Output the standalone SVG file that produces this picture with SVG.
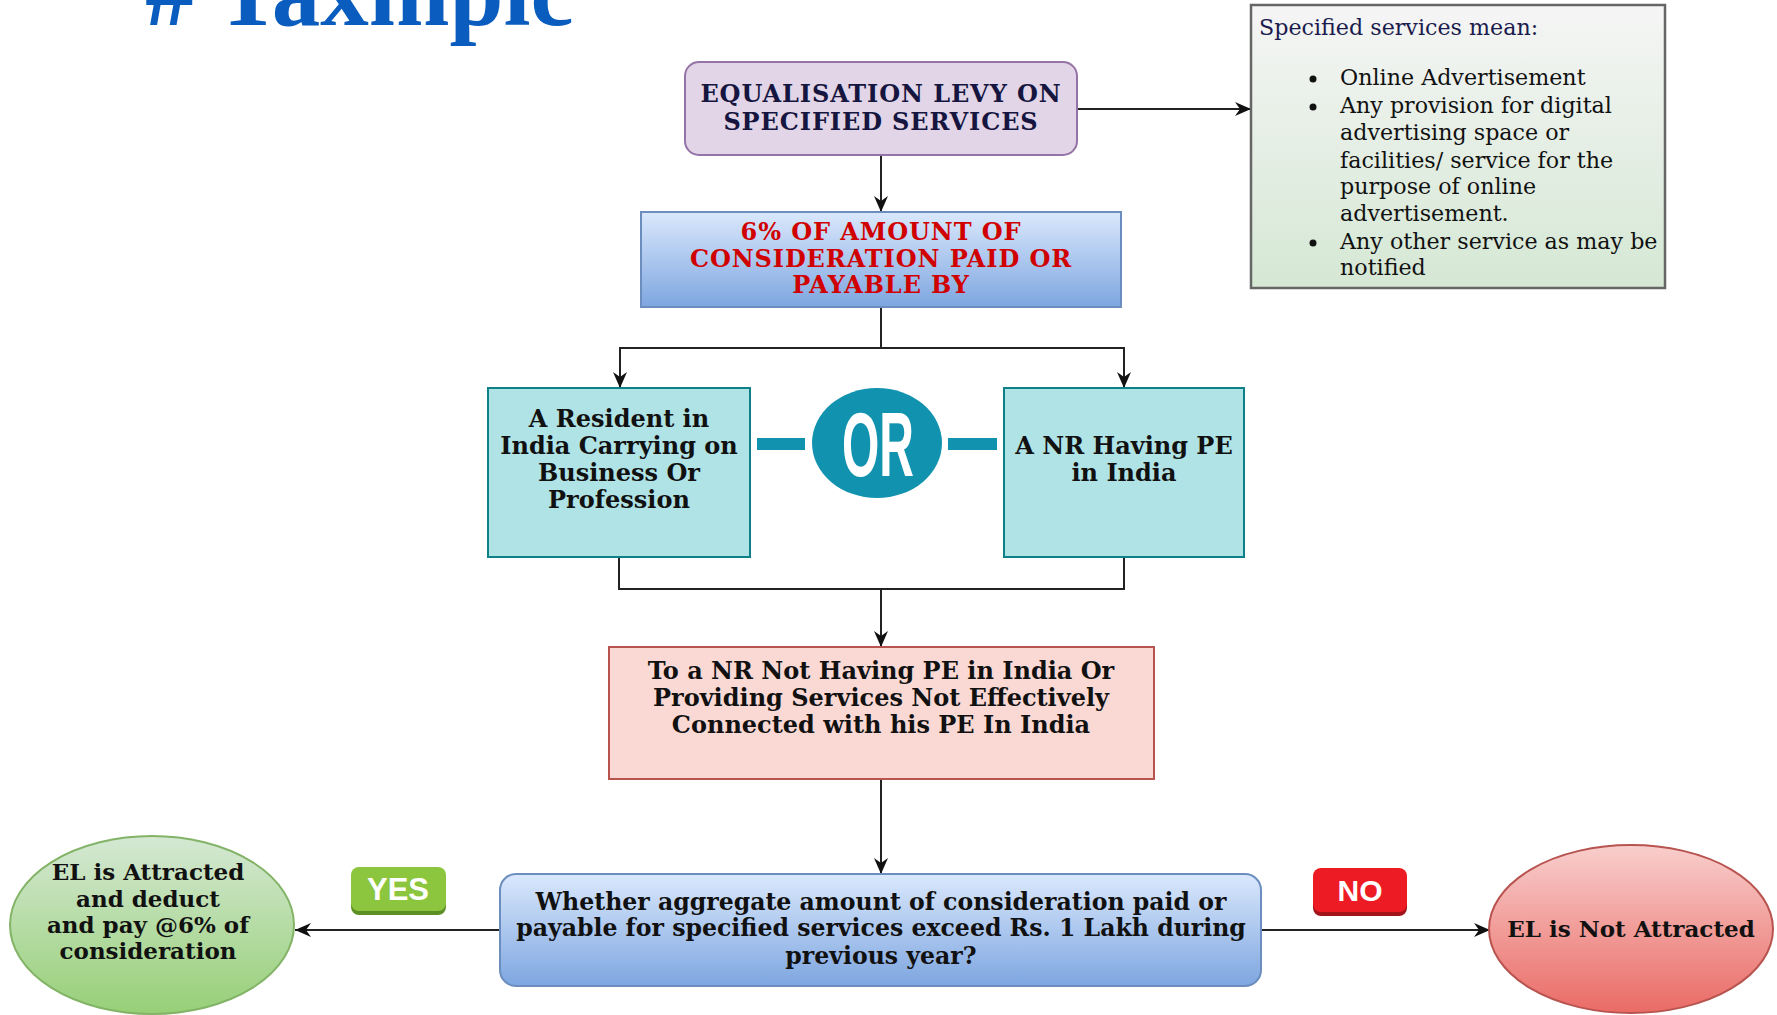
<svg xmlns="http://www.w3.org/2000/svg" width="1777" height="1015" viewBox="0 0 1777 1015">
<defs>
<linearGradient id="gBlue" x1="0" y1="0" x2="0" y2="1"><stop offset="0" stop-color="#dae8fc"/><stop offset="1" stop-color="#7ea6e0"/></linearGradient>
<linearGradient id="gSpec" x1="0" y1="0" x2="0" y2="1"><stop offset="0" stop-color="#f5f5f5"/><stop offset="1" stop-color="#d5e8d4"/></linearGradient>
<linearGradient id="gGreen" x1="0" y1="0" x2="0" y2="1"><stop offset="0" stop-color="#d5e8d4"/><stop offset="1" stop-color="#97d077"/></linearGradient>
<linearGradient id="gRed" x1="0" y1="0" x2="0" y2="1"><stop offset="0" stop-color="#f8cecc"/><stop offset="1" stop-color="#ea6b66"/></linearGradient>
<marker id="arr" markerUnits="userSpaceOnUse" markerWidth="18" markerHeight="16" refX="16" refY="7" orient="auto"><path d="M0,0 L16,7 L0,14 L5,7 z" fill="#111"/></marker>
<style>
.b{font-family:"DejaVu Serif","Liberation Serif",serif;font-weight:bold;fill:#111;text-anchor:middle}
.caps{font-size:24px;letter-spacing:0.9px}
.r{font-family:"DejaVu Serif","Liberation Serif",serif;font-size:22.2px;fill:#111}
.ln{fill:none;stroke:#222;stroke-width:2}
.badge{font-family:"Liberation Sans",Arial,sans-serif;font-weight:bold;fill:#fff;text-anchor:middle}
</style>
</defs>
<rect width="1777" height="1015" fill="#fff"/>
<text x="145" y="25" font-family="Liberation Serif, serif" font-weight="bold" font-size="97" fill="#0a5cbe"># Taxmpic</text>

<g id="connectors">
<path class="ln" d="M881,155 V212" marker-end="url(#arr)"/>
<path class="ln" d="M1077,109 H1251" marker-end="url(#arr)"/>
<path class="ln" d="M881,307 V348 H620 V388" marker-end="url(#arr)"/>
<path class="ln" d="M881,348 H1124 V388" marker-end="url(#arr)"/>
<path class="ln" d="M619,557 V589 H1124 V557"/>
<path class="ln" d="M881,589 V647" marker-end="url(#arr)"/>
<path class="ln" d="M881,779 V874" marker-end="url(#arr)"/>
<path class="ln" d="M500,930 H295" marker-end="url(#arr)"/>
<path class="ln" d="M1261,930 H1490" marker-end="url(#arr)"/>
</g>

<g id="levy">
<rect x="685" y="62" width="392" height="93" rx="14" fill="#e1d5e7" stroke="#9673a6" stroke-width="2"/>
<text class="b caps" x="881" y="102" style="fill:#15153f">EQUALISATION LEVY ON</text>
<text class="b caps" x="881" y="130" style="fill:#15153f">SPECIFIED SERVICES</text>
</g>

<g id="specified">
<rect x="1251" y="5" width="414" height="283" fill="url(#gSpec)" stroke="#666" stroke-width="2.5"/>
<text class="r" x="1259" y="35" style="fill:#1b1b4d">Specified services mean:</text>
<g fill="#111"><circle cx="1313" cy="79" r="3.5"/><circle cx="1313" cy="107" r="3.5"/><circle cx="1313" cy="243" r="3.5"/></g>
<text class="r" x="1340" y="85">Online Advertisement</text>
<text class="r" x="1340" y="113">Any provision for digital</text>
<text class="r" x="1340" y="140">advertising space or</text>
<text class="r" x="1340" y="168">facilities/ service for the</text>
<text class="r" x="1340" y="194">purpose of online</text>
<text class="r" x="1340" y="221">advertisement.</text>
<text class="r" x="1340" y="249">Any other service as may be</text>
<text class="r" x="1340" y="275">notified</text>
</g>

<g id="rate">
<rect x="641" y="212" width="480" height="95" fill="url(#gBlue)" stroke="#6c8ebf" stroke-width="2"/>
<text class="b caps" x="881" y="240" style="fill:#d00000">6% OF AMOUNT OF</text>
<text class="b caps" x="881" y="267" style="fill:#d00000">CONSIDERATION PAID OR</text>
<text class="b caps" x="881" y="293" style="fill:#d00000">PAYABLE BY</text>
</g>

<g id="resident">
<rect x="488" y="388" width="262" height="169" fill="#b0e3e6" stroke="#0e8088" stroke-width="2"/>
<text class="b" font-size="24" x="619" y="427">A Resident in</text>
<text class="b" font-size="24" x="619" y="454">India Carrying on</text>
<text class="b" font-size="24" x="619" y="481">Business Or</text>
<text class="b" font-size="24" x="619" y="508">Profession</text>
</g>

<g id="or">
<rect x="757" y="438" width="48" height="12" fill="#1193b0"/>
<rect x="948" y="438" width="49" height="12" fill="#1193b0"/>
<ellipse cx="877" cy="443" rx="65" ry="55" fill="#1193b0"/>
<text x="878" y="476" font-family="Liberation Sans, Arial, sans-serif" font-weight="bold" font-size="90" fill="#fff" text-anchor="middle" textLength="72" lengthAdjust="spacingAndGlyphs">OR</text>
</g>

<g id="nr">
<rect x="1004" y="388" width="240" height="169" fill="#b0e3e6" stroke="#0e8088" stroke-width="2"/>
<text class="b" font-size="24" x="1124" y="454">A NR Having PE</text>
<text class="b" font-size="24" x="1124" y="481">in India</text>
</g>

<g id="recipient">
<rect x="609" y="647" width="545" height="132" fill="#fad9d5" stroke="#b85450" stroke-width="2"/>
<text class="b" font-size="24" x="881" y="679">To a NR Not Having PE in India Or</text>
<text class="b" font-size="24" x="881" y="706">Providing Services Not Effectively</text>
<text class="b" font-size="24" x="881" y="733">Connected with his PE In India</text>
</g>

<g id="question">
<rect x="500" y="874" width="761" height="112" rx="16" fill="url(#gBlue)" stroke="#6c8ebf" stroke-width="2"/>
<text class="b" font-size="23.6" x="881" y="910">Whether aggregate amount of consideration paid or</text>
<text class="b" font-size="23.6" x="881" y="936">payable for specified services exceed Rs. 1 Lakh during</text>
<text class="b" font-size="23.6" x="881" y="964">previous year?</text>
</g>

<g id="attracted">
<ellipse cx="152" cy="925" rx="142" ry="89" fill="url(#gGreen)" stroke="#82b366" stroke-width="2"/>
<text class="b" font-size="23" x="148" y="880">EL is Attracted</text>
<text class="b" font-size="23" x="148" y="907">and deduct</text>
<text class="b" font-size="23" x="148" y="933">and pay @6% of</text>
<text class="b" font-size="23" x="148" y="959">consideration</text>
</g>

<g id="yes">
<rect x="351" y="870" width="95" height="45" rx="8" fill="#5e8f24"/>
<rect x="351" y="867" width="95" height="44" rx="8" fill="#8cc63f"/>
<text class="badge" font-size="31" x="398" y="900">YES</text>
</g>

<g id="no">
<rect x="1313" y="871" width="94" height="45" rx="8" fill="#a3141a"/>
<rect x="1313" y="868" width="94" height="44" rx="8" fill="#ed1c24"/>
<text class="badge" font-size="30" x="1360" y="901">NO</text>
</g>

<g id="notattracted">
<ellipse cx="1631" cy="929" rx="142" ry="84" fill="url(#gRed)" stroke="#b85450" stroke-width="2"/>
<text class="b" font-size="23" x="1631" y="937">EL is Not Attracted</text>
</g>
</svg>
